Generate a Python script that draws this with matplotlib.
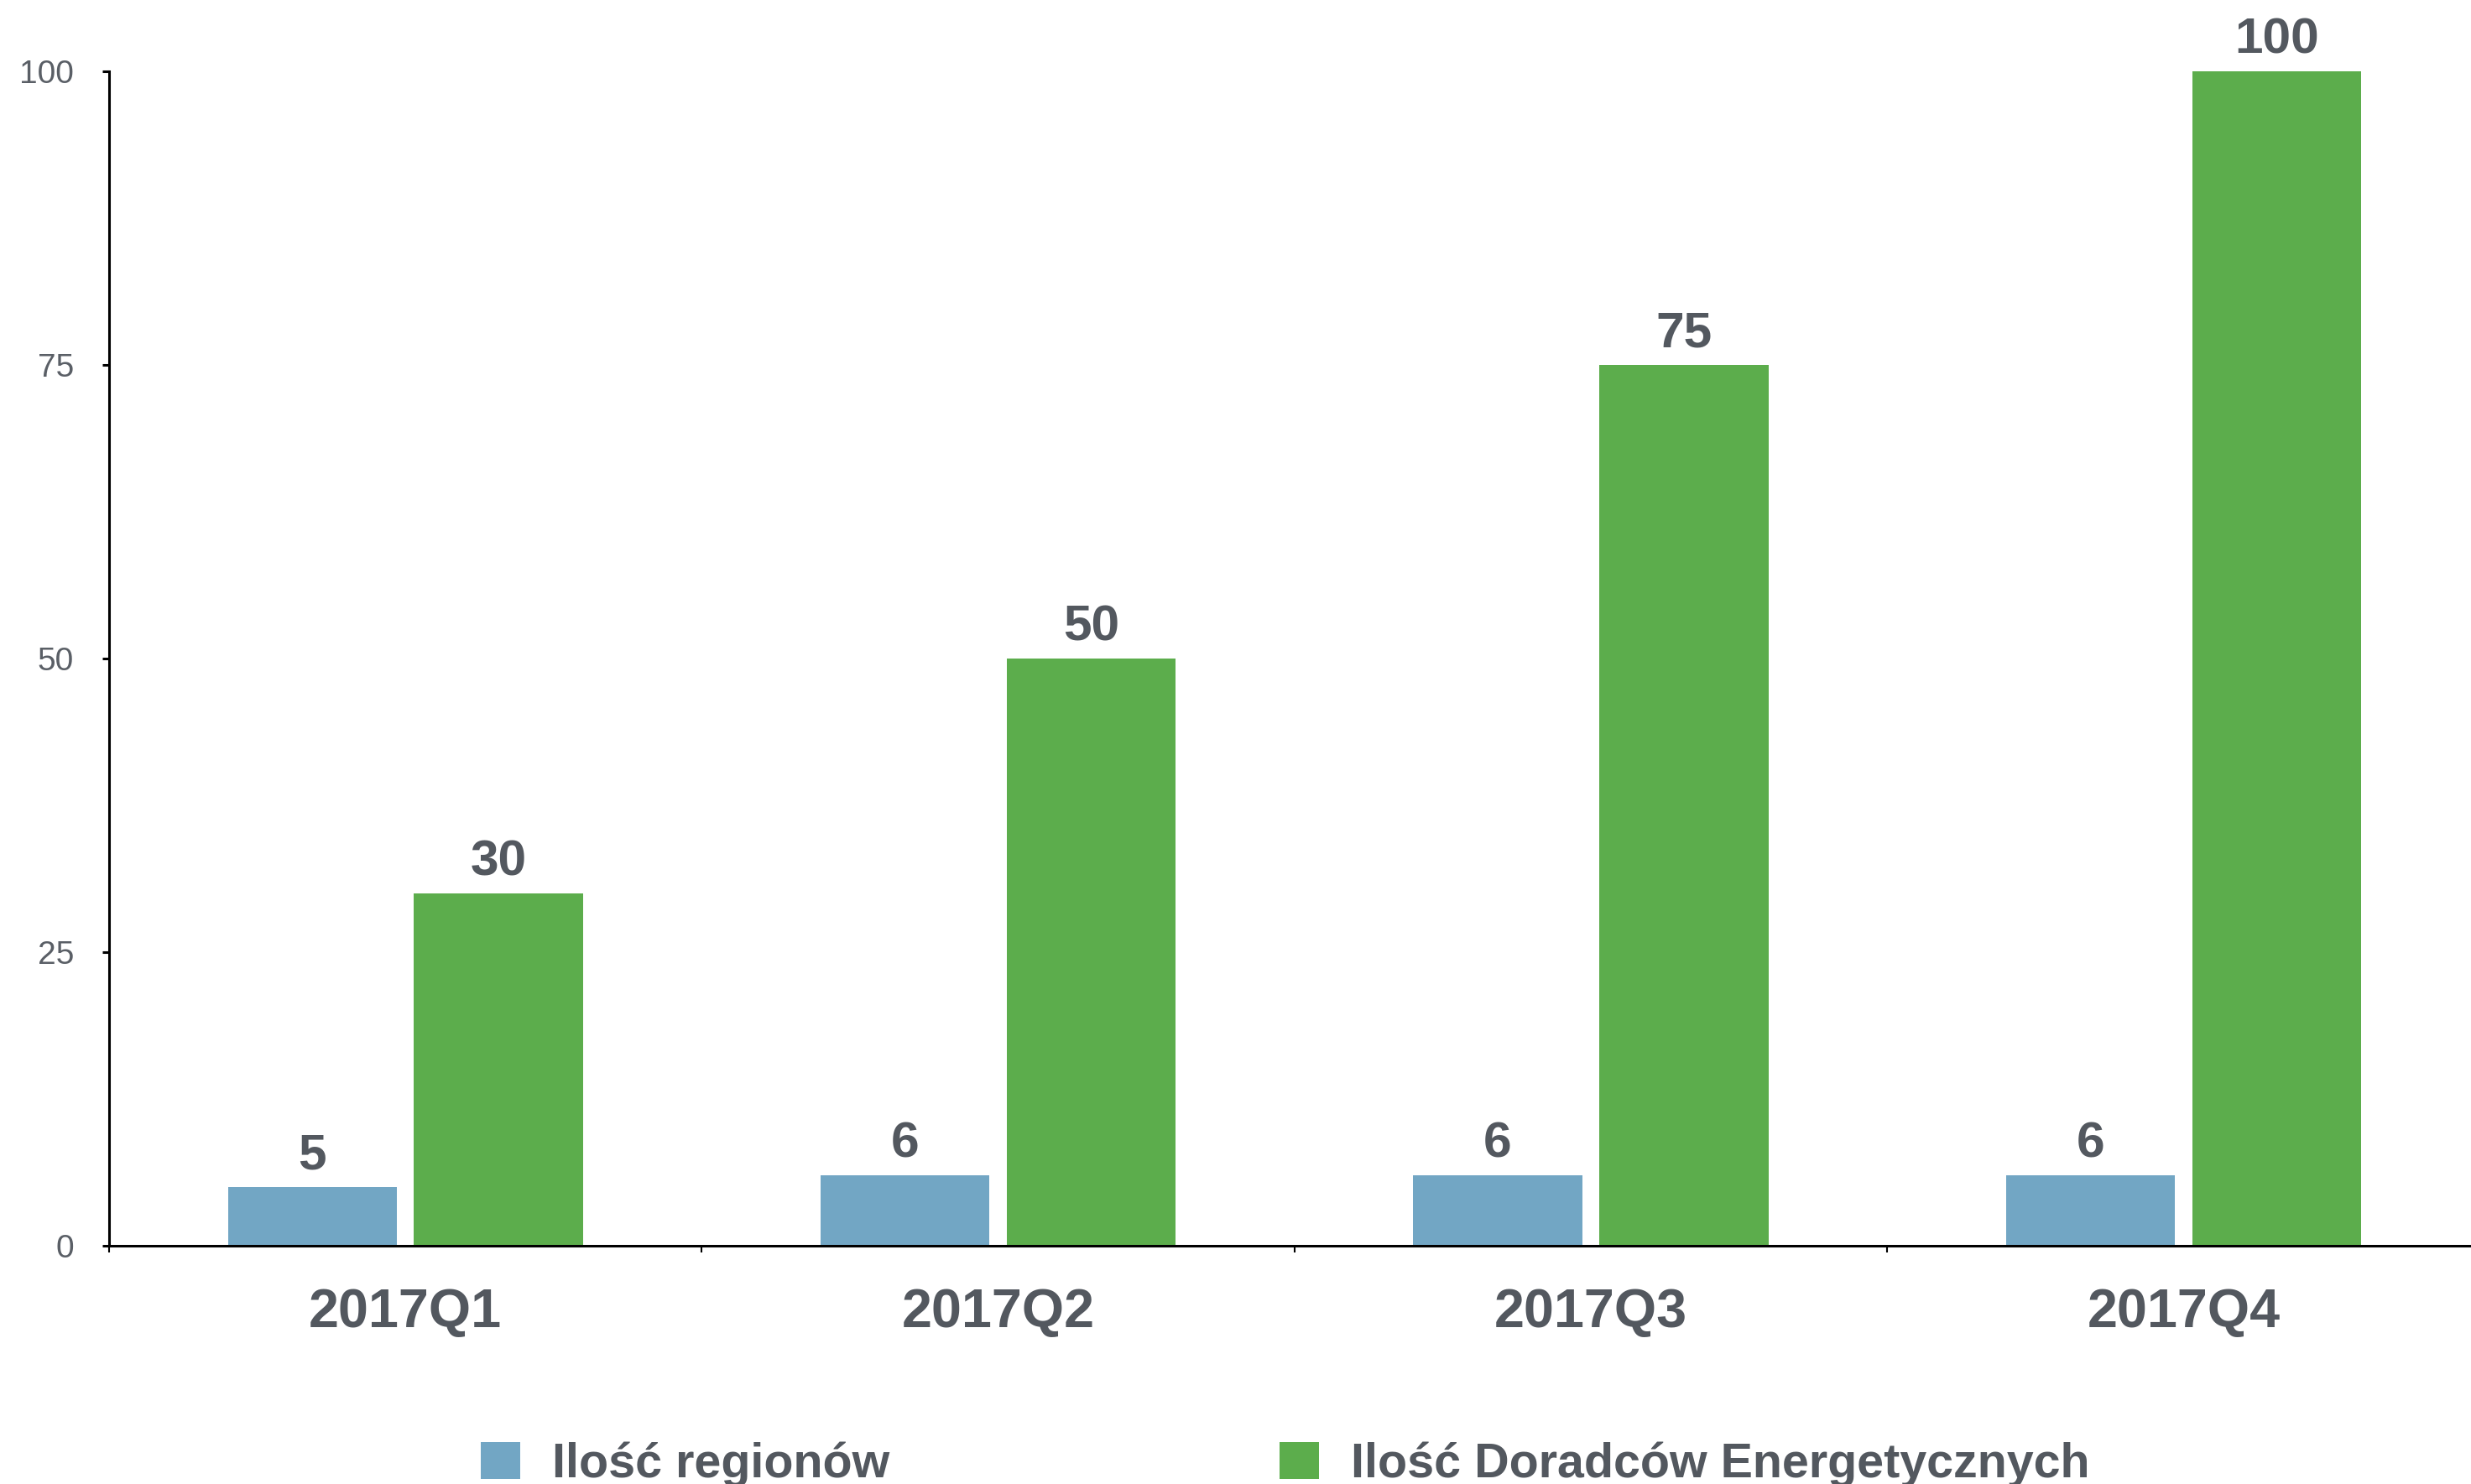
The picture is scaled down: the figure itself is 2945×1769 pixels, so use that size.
import matplotlib.pyplot as plt
import numpy as np

# Dane z wykresu
kwartaly = ["2017Q1", "2017Q2", "2017Q3", "2017Q4"]
regiony = [5, 6, 6, 6]
doradcy = [30, 50, 75, 100]
nazwy_serii = ["Ilość regionów", "Ilość Doradców Energetycznych"]
y_ticki = [0, 25, 50, 75, 100]

kolor_tekstu = "#53585f"
plt.rcParams["font.family"] = ["Liberation Sans", "DejaVu Sans"]

fig = plt.figure(figsize=(29.45, 17.69), dpi=100)
ax = fig.add_axes([0.0441, 0.1605, 0.9595, 0.7915])

x = np.arange(len(kwartaly))
szer = 0.285
b1 = ax.bar(x - 0.157, regiony, szer, color="#72a6c4", label=nazwy_serii[0])
b2 = ax.bar(x + 0.157, doradcy, szer, color="#5cad4c", label=nazwy_serii[1])

# wartosci nad slupkami
for bars in (b1, b2):
    ax.bar_label(bars, padding=7, fontsize=43.5, fontweight="bold", color=kolor_tekstu)

ax.set_xlim(-0.5, 3.5)
ax.set_ylim(0, 100)
ax.set_yticks(y_ticki)
ax.tick_params(axis="y", labelsize=28, labelcolor="#5a5f66", length=6, width=2.2, pad=24)

# kreski na granicach kategorii, podpisy w srodku
ax.set_xticks(np.arange(-0.5, len(kwartaly), 1))
ax.set_xticklabels([])
ax.set_xticks(x, minor=True)
ax.set_xticklabels(kwartaly, minor=True, fontsize=46.5, fontweight="bold", color=kolor_tekstu)
ax.tick_params(axis="x", which="minor", length=0, pad=36)
ax.tick_params(axis="x", which="major", length=6, width=1.5)

for s in ["top", "right"]:
    ax.spines[s].set_visible(False)
ax.spines["left"].set_linewidth(2.2)
ax.spines["bottom"].set_linewidth(2.2)

leg = fig.legend(handles=[b1, b2], loc="upper left", bbox_to_anchor=(573 / 2945, 1 - 1718 / 1769),
                 ncol=2, frameon=False, prop=dict(size=41.3, weight="bold"),
                 handlelength=0.82, handleheight=0.8, handletextpad=0.66,
                 columnspacing=8.1, borderpad=0, borderaxespad=0)
for t in leg.get_texts():
    t.set_color(kolor_tekstu)

fig.savefig("out.png", dpi=100)
